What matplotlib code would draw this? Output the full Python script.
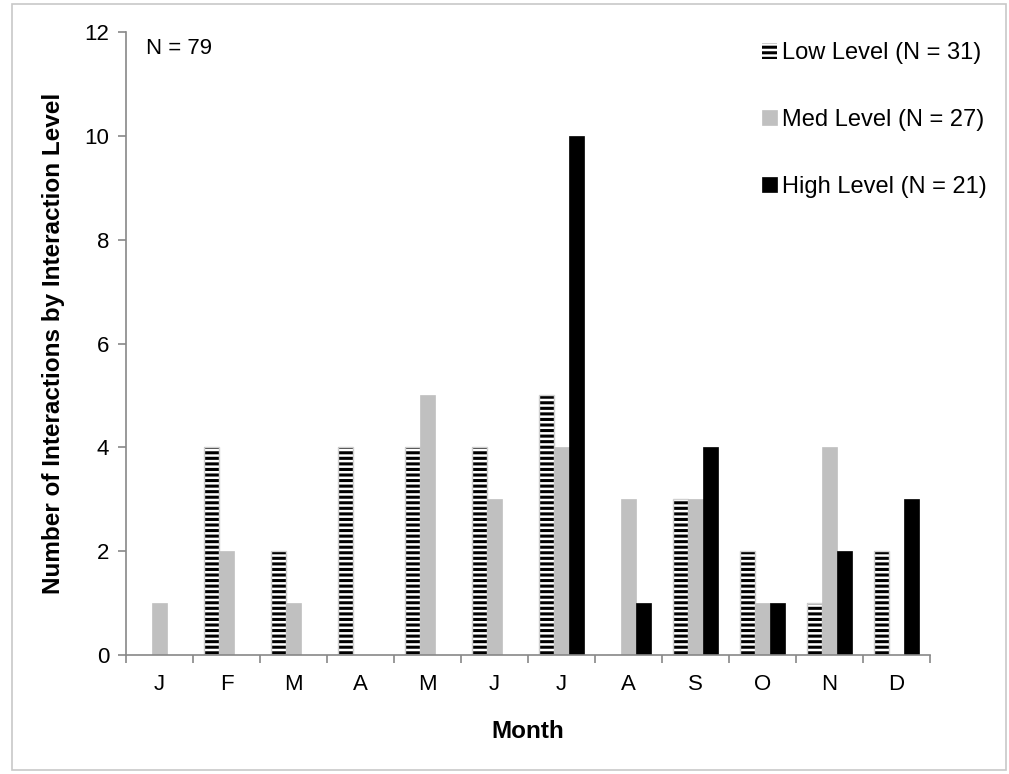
import numpy as np
import matplotlib.pyplot as plt
from matplotlib.patches import Rectangle

plt.rcParams['font.family'] = ['Liberation Sans', 'DejaVu Sans']
plt.rcParams['hatch.linewidth'] = 2.2

# monthly counts by interaction level
months = ['J', 'F', 'M', 'A', 'M', 'J', 'J', 'A', 'S', 'O', 'N', 'D']
low_level = [0, 4, 2, 4, 4, 4, 5, 0, 3, 2, 1, 2]
med_level = [1, 2, 1, 0, 5, 3, 4, 3, 3, 1, 4, 0]
high_level = [0, 0, 0, 0, 0, 0, 10, 1, 4, 1, 2, 3]
labels = ['Low Level (N = 31)', 'Med Level (N = 27)', 'High Level (N = 21)']

fig = plt.figure(figsize=(10.09, 7.74), dpi=100)
# light outer frame
fig.patches.append(Rectangle((0.012, 0.005), 0.985, 0.99, transform=fig.transFigure,
                             fill=False, edgecolor='#c8c8c8', linewidth=1.2))
ax = fig.add_axes([0.1249, 0.1537, 0.7968, 0.805])

x = np.arange(len(months))
w = 0.225
# hatched bars: hatch takes the edge colour, so draw the light outline separately
ax.bar(x - w, low_level, w, color='white', edgecolor='black', hatch='---',
       linewidth=0, label=labels[0])
ax.bar(x - w, low_level, w, fill=False, edgecolor='#d0d0d0', linewidth=1.0)
ax.bar(x, med_level, w, color='#c0c0c0', edgecolor='#c0c0c0', linewidth=0.5,
       label=labels[1])
ax.bar(x + w, high_level, w, color='black', edgecolor='black', linewidth=0.5,
       label=labels[2])

ax.set_xlim(-0.5, len(months) - 0.5)
ax.set_ylim(0, 12)
ax.set_yticks(range(0, 13, 2))
ax.set_xticks(np.arange(-0.5, len(months), 1.0))
ax.set_xticklabels([])
ax.set_xticks(x, minor=True)
ax.set_xticklabels(months, minor=True)
ax.tick_params(axis='x', which='minor', length=0, pad=14, labelsize=16)
ax.tick_params(axis='x', which='major', length=6, color='#888888', width=1.2)
ax.tick_params(axis='y', length=6, color='#888888', width=1.2, labelsize=16, pad=6)

for s in ['top', 'right']:
    ax.spines[s].set_visible(False)
for s in ['left', 'bottom']:
    ax.spines[s].set_color('#888888')
    ax.spines[s].set_linewidth(1.2)

ax.set_xlabel('Month', fontsize=17.5, fontweight='bold', labelpad=18)
ax.set_ylabel('Number of Interactions by Interaction Level', fontsize=17.5,
              fontweight='bold', labelpad=14)
ax.text(0.025, 0.99, 'N = 79', transform=ax.transAxes, fontsize=16, va='top')

leg = ax.legend(loc='upper right', bbox_to_anchor=(1.097, 1.018), frameon=False,
                fontsize=17, handlelength=0.65, handleheight=0.65,
                handletextpad=0.2, labelspacing=1.9)

fig.savefig('out.png', dpi=100)
